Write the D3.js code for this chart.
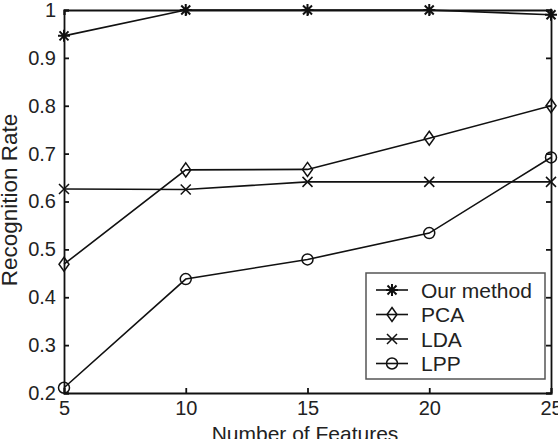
<!DOCTYPE html>
<html lang="en">
<meta charset="utf-8">
<style>
body { margin: 0; background: #fff; font-family: 'Liberation Sans', Arial, sans-serif; }
.axis text { font-size: 20px; fill: #222; }
.series { fill: none; stroke: #111; stroke-width: 1.6px; }
.marker { fill: none; stroke: #111; stroke-width: 1.5px; }
</style>
<body>
<div id="chart"></div>
<script src="https://d3js.org/d3.v7.min.js"></script>
<script>
// chart data
var features = [5, 10, 15, 20, 25];
var ourMethod = [0.946, 1.0, 1.0, 1.0, 0.99];
var pca = [0.469, 0.666, 0.667, 0.732, 0.8];
var lda = [0.626, 0.625, 0.641, 0.641, 0.641];
var lpp = [0.211, 0.438, 0.479, 0.534, 0.692];
var seriesNames = ["Our method", "PCA", "LDA", "LPP"];
var markerTypes = ["star", "diamond", "cross", "circle"];
var xTicks = [5, 10, 15, 20, 25];
var yTicks = [0.2, 0.3, 0.4, 0.5, 0.6, 0.7, 0.8, 0.9, 1];

var width = 558, height = 439;
var margin = {top: 10, right: 7, bottom: 46, left: 64};

var svg = d3.select("#chart").append("svg")
    .attr("width", width)
    .attr("height", height);

var x = d3.scaleLinear().domain([5, 25]).range([margin.left, width - margin.right]);
var y = d3.scaleLinear().domain([0.2, 1]).range([height - margin.bottom, margin.top]);

// box and ticks (matlab style, ticks inward on all sides)
var g = svg.append("g");
g.append("g").attr("class", "axis")
    .attr("transform", "translate(0," + y(0.2) + ")")
    .call(d3.axisBottom(x).tickValues(xTicks).tickSize(-5).tickPadding(8).tickFormat(d3.format("d")));
g.append("g").attr("class", "axis")
    .attr("transform", "translate(" + x(5) + ",0)")
    .call(d3.axisLeft(y).tickValues(yTicks).tickSize(-5).tickPadding(8).tickFormat(function(d) { return d === 1 ? "1" : d3.format(".1f")(d); }));
g.append("g")
    .attr("transform", "translate(0," + y(1) + ")")
    .call(d3.axisTop(x).tickValues(xTicks).tickSize(-5).tickFormat(""));
g.append("g")
    .attr("transform", "translate(" + x(25) + ",0)")
    .call(d3.axisRight(y).tickValues(yTicks).tickSize(-5).tickFormat(""));
g.selectAll(".domain, .tick line").attr("stroke", "#111").attr("stroke-width", 1.8);
g.selectAll(".tick text").attr("fill", "#222");

svg.append("text")
    .attr("x", 305)
    .attr("y", 441)
    .attr("text-anchor", "middle")
    .style("font-size", "21px").style("fill", "#222")
    .text("Number of Features");
svg.append("text")
    .attr("transform", "translate(17,200) rotate(-90)")
    .attr("text-anchor", "middle")
    .style("font-size", "22.5px").style("fill", "#222")
    .text("Recognition Rate");

function drawMarker(sel, type) {
  if (type === "star") {
    sel.append("path").attr("class", "marker").style("stroke-width", 2)
      .attr("d", "M-6,0H6M0,-6V6M-4.5,-4.5L4.5,4.5M-4.5,4.5L4.5,-4.5");
  } else if (type === "diamond") {
    sel.append("path").attr("class", "marker").attr("d", "M0,-7L5,0L0,7L-5,0Z");
  } else if (type === "cross") {
    sel.append("path").attr("class", "marker").attr("d", "M-5,-5L5,5M-5,5L5,-5");
  } else {
    sel.append("circle").attr("class", "marker").attr("r", 5.5);
  }
}

var allSeries = [ourMethod, pca, lda, lpp];
var line = d3.line().x(function(d, i) { return x(features[i]); }).y(function(d) { return y(d); });

allSeries.forEach(function(vals, k) {
  svg.append("path").datum(vals).attr("class", "series").attr("d", line);
  vals.forEach(function(v, i) {
    var m = svg.append("g").attr("transform", "translate(" + x(features[i]) + "," + y(v) + ")");
    drawMarker(m, markerTypes[k]);
  });
});

// legend
var legend = svg.append("g").attr("transform", "translate(366,273)");
legend.append("rect").attr("width", 179).attr("height", 106)
    .attr("fill", "#fff").attr("stroke", "#555").attr("stroke-width", 1.5);
seriesNames.forEach(function(name, k) {
  var ly = 17 + k * 24.5;
  legend.append("line").attr("x1", 10).attr("x2", 42).attr("y1", ly).attr("y2", ly)
      .attr("stroke", "#111").attr("stroke-width", 1.6);
  var m = legend.append("g").attr("transform", "translate(26," + ly + ")");
  drawMarker(m, markerTypes[k]);
  legend.append("text").attr("x", 55).attr("y", ly + 7.5)
      .style("font-size", "21px").style("fill", "#222").text(name);
});
</script>
</body>
</html>
